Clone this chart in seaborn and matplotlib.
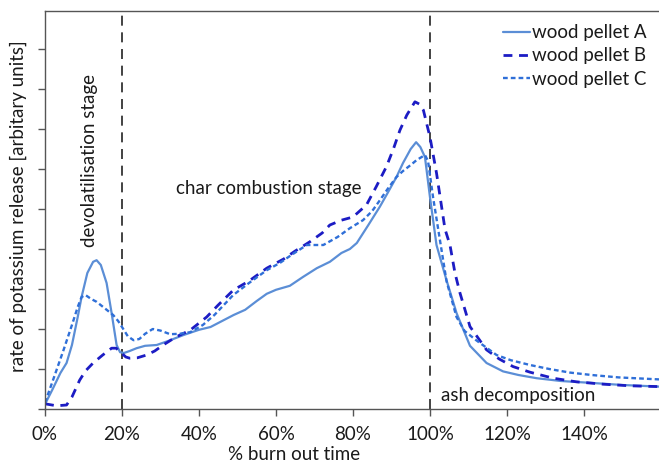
import matplotlib
matplotlib.use("Agg")
import matplotlib.pyplot as plt
import seaborn as sns
import pandas as pd
from matplotlib.ticker import FuncFormatter, MultipleLocator

# ---- data (x in % burn out time, y in arbitrary units) ----
a_x = [0, 2, 4, 5.6, 7, 8.5, 9.5, 11, 12.5, 13.4, 14.5, 16, 17.3, 18.6, 19.5, 20.5, 22, 23.8, 26, 29,
       32, 36, 40, 43, 46, 49, 52, 55, 57.6, 60, 63.6, 67, 70.6, 74, 77, 79.2, 81, 84, 87, 89, 91.3,
       93, 95, 96.4, 97.5, 98.7, 100, 101.7, 104.3, 106.9, 110.4, 114.7, 119, 123, 127.7, 134, 140.7,
       150, 159.5]
a_y = [0.12, 0.5, 0.9, 1.15, 1.6, 2.3, 2.8, 3.4, 3.68, 3.72, 3.6, 3.15, 2.4, 1.6, 1.42, 1.4, 1.45,
       1.52, 1.58, 1.6, 1.7, 1.85, 1.98, 2.05, 2.2, 2.35, 2.48, 2.7, 2.88, 2.98, 3.08, 3.3, 3.52, 3.68,
       3.9, 4.0, 4.15, 4.6, 5.06, 5.4, 5.8, 6.15, 6.5, 6.67, 6.55, 6.3, 5.3, 4.1, 3.22, 2.4, 1.58, 1.15,
       0.94, 0.85, 0.77, 0.7, 0.66, 0.6, 0.56]

b_x = [0, 3, 5.6, 7, 9, 10.5, 12.5, 15, 17.3, 18.5, 19.5, 21, 22, 24, 26.4, 28.5, 30.7, 34, 37.7, 42,
       45, 48.9, 53, 57.6, 62, 65, 68.8, 72, 74, 77, 80, 83.5, 86, 88.7, 90.5, 92.2, 94, 96.1, 97.3,
       98.3, 100, 101.7, 103.9, 105.2, 106.5, 107.8, 110.4, 114.7, 118, 121.6, 126, 132, 138, 145, 152,
       159.5]
b_y = [0.13, 0.08, 0.1, 0.3, 0.72, 0.95, 1.15, 1.35, 1.52, 1.52, 1.43, 1.3, 1.27, 1.28, 1.35, 1.45,
       1.6, 1.8, 1.97, 2.3, 2.6, 2.97, 3.2, 3.52, 3.75, 3.95, 4.18, 4.4, 4.6, 4.72, 4.8, 5.1, 5.55,
       6.06, 6.5, 6.97, 7.35, 7.68, 7.62, 7.47, 6.8, 5.9, 4.5, 4.1, 3.4, 2.9, 2.06, 1.48, 1.25, 1.06,
       0.92, 0.77, 0.68, 0.62, 0.58, 0.56]

c_x = [0, 2, 4.8, 7, 8.5, 9.5, 10.5, 12, 13.4, 15.5, 17.7, 19, 20.2, 21.5, 23, 24.5, 26, 28, 30, 32.5,
       35, 37.7, 41, 44, 48.9, 53, 57.6, 61, 64, 68, 72.3, 76, 79.2, 82.6, 85, 87, 89, 91.3, 93, 95,
       96.5, 98.7, 99.5, 100.8, 102.6, 104.3, 106.9, 109, 112, 117.3, 121, 126, 131, 136.4, 142, 149,
       159.5]
c_y = [0.16, 0.7, 1.47, 2.1, 2.55, 2.8, 2.85, 2.75, 2.68, 2.52, 2.35, 2.2, 2.02, 1.82, 1.72, 1.75,
       1.88, 2.0, 1.96, 1.87, 1.88, 1.92, 2.1, 2.35, 2.85, 3.15, 3.47, 3.65, 3.85, 4.1, 4.1, 4.3, 4.52,
       4.72, 4.95, 5.22, 5.5, 5.8, 5.95, 6.1, 6.22, 6.35, 6.2, 5.3, 4.22, 3.2, 2.3, 1.95, 1.72, 1.35,
       1.22, 1.1, 1.0, 0.91, 0.85, 0.79, 0.74]

series_names = ["wood pellet A", "wood pellet B", "wood pellet C"]
stage_lines = [20, 100]
x_ticks = [0, 20, 40, 60, 80, 100, 120, 140]

df = pd.concat([
    pd.DataFrame({"x": a_x, "y": a_y, "series": series_names[0]}),
    pd.DataFrame({"x": b_x, "y": b_y, "series": series_names[1]}),
    pd.DataFrame({"x": c_x, "y": c_y, "series": series_names[2]}),
], ignore_index=True)

sns.set_theme(style="ticks")
plt.rcParams["font.family"] = ["Lato", "DejaVu Sans"]
txt_color = "#1a1a1a"
fs = 13.5

fig = plt.figure(figsize=(6.59, 4.65), dpi=100)
ax = fig.add_axes([45 / 659, (465 - 409) / 465, (659 - 45) / 659, (409 - 11) / 465])

palette = {"wood pellet A": "#5b8ed6", "wood pellet B": "#1c1cc4", "wood pellet C": "#2f6fd8"}
dashes = {"wood pellet A": "", "wood pellet B": (3.2, 2.4), "wood pellet C": (2.0, 1.3)}
sizes = {"wood pellet A": 1.6, "wood pellet B": 2.0, "wood pellet C": 1.7}

sns.lineplot(data=df, x="x", y="y", hue="series", style="series", size="series",
             palette=palette, dashes=dashes, sizes=sizes, sort=False, estimator=None,
             ax=ax, legend=True)

for xv in stage_lines:
    ax.axvline(xv, color="#222222", lw=1.2, ls=(0, (6, 4)), zorder=1)

ax.set_xlim(0, 159.5)
ax.set_ylim(0, 9.95)
ax.set_xticks(x_ticks)
ax.xaxis.set_major_formatter(FuncFormatter(lambda v, p: f"{v:.0f}%"))
ax.yaxis.set_major_locator(MultipleLocator(1))
ax.set_yticklabels([])
ax.tick_params(axis="x", length=5, width=1, color="#555555", labelsize=fs, labelcolor=txt_color, pad=7)
ax.tick_params(axis="y", length=5, width=1, color="#555555")

for s in ["left", "bottom", "top"]:
    ax.spines[s].set_color("#555555")
    ax.spines[s].set_linewidth(1.0)
ax.spines["right"].set_visible(False)

ax.set_xlabel("% burn out time", fontsize=fs, color=txt_color)
ax.xaxis.set_label_coords((294 - 45) / 614, -0.092)
ax.set_ylabel("rate of potassium release [arbitary units]", fontsize=fs, color=txt_color)
ax.yaxis.set_label_coords(-0.03, 0.51)

ax.text(11.5, 6.2, "devolatilisation stage", rotation=90, ha="center", va="center",
        fontsize=fs, color=txt_color)
ax.text(58, 5.52, "char combustion stage", ha="center", va="center", fontsize=fs, color=txt_color)
ax.text(123, 0.35, "ash decomposition", ha="center", va="center", fontsize=fs, color=txt_color)

leg = ax.legend(loc="upper right", bbox_to_anchor=(0.998, 0.995), frameon=False, fontsize=fs,
                handlelength=1.45, handletextpad=0.1, labelspacing=0.33, borderaxespad=0.2)
for t in leg.get_texts():
    t.set_color(txt_color)

fig.savefig("out.png", dpi=100)
